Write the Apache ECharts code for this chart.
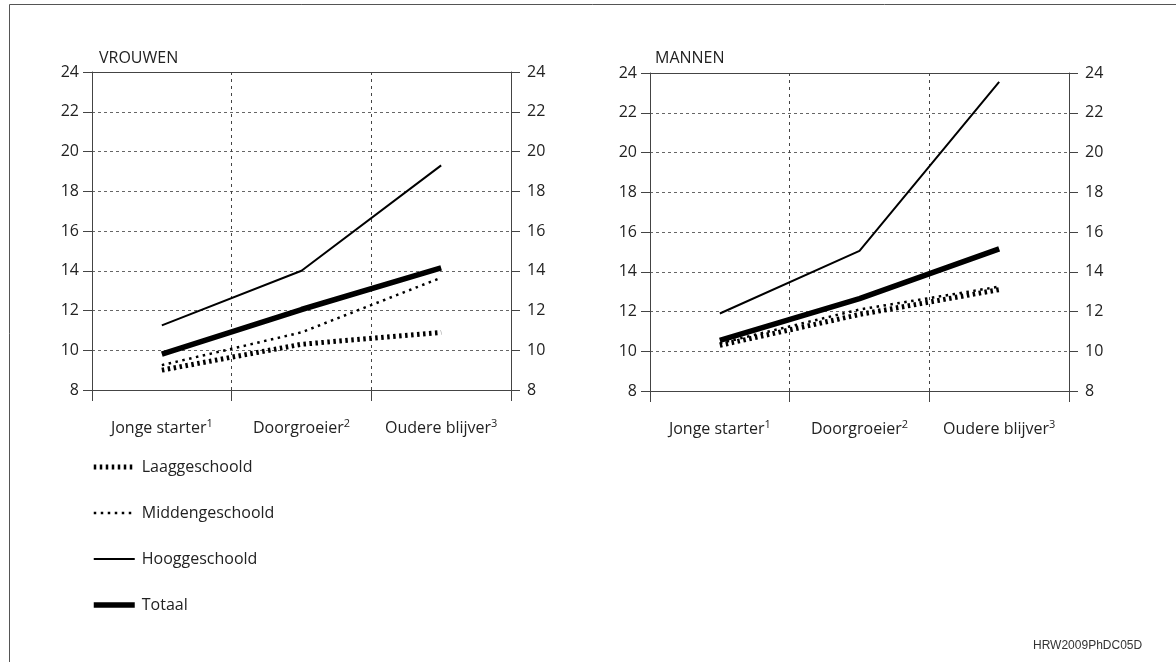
<!DOCTYPE html>
<html>
<head>
<meta charset="utf-8">
<script src="https://cdn.jsdelivr.net/npm/echarts@6/dist/echarts.min.js"></script>
<style>
  html, body { margin: 0; padding: 0; background: #fff; }
  #chart { width: 1176px; height: 662px; }
</style>
</head>
<body>
<div id="chart"></div>
<script>
// categorieen (x-as) en voetnootnummers
var categories = ['Jonge starter', 'Doorgroeier', 'Oudere blijver'];
var notes = ['1', '2', '3'];
// y-as ticks
var yTicks = [8, 10, 12, 14, 16, 18, 20, 22, 24];

// VROUWEN
var vrouwenLaag = [9.0, 10.3, 10.9];
var vrouwenMidden = [9.25, 10.9, 13.65];
var vrouwenHoog = [11.25, 14.0, 19.3];
var vrouwenTotaal = [9.8, 12.05, 14.15];

// MANNEN
var mannenLaag = [10.3, 11.85, 13.1];
var mannenMidden = [10.4, 12.1, 13.25];
var mannenHoog = [11.9, 15.05, 23.55];
var mannenTotaal = [10.55, 12.65, 15.15];

var names = ['Laaggeschoold', 'Middengeschoold', 'Hooggeschoold', 'Totaal'];

var font = '"Open Sans", "Noto Sans", sans-serif';
var textColor = '#222';

// lijnstijlen per opleidingsniveau
var styles = [
    {color: '#000', width: 5, type: [2.5, 3.5]},
    {color: '#000', width: 2.5, type: [2.5, 4.5]},
    {color: '#000', width: 2, type: 'solid'},
    {color: '#000', width: 5.5, type: 'solid'}
];

function xAxes(gridIndex) {
    return [{
        gridIndex: gridIndex,
        type: 'category',
        data: categories,
        boundaryGap: true,
        axisLine: {lineStyle: {color: '#444', width: 1}},
        axisTick: {show: true, interval: 0, length: 11, lineStyle: {color: '#444'}},
        splitLine: {show: true, interval: 0, lineStyle: {color: '#444', type: [3, 4], width: 1}},
        axisLabel: {
            interval: 0,
            margin: 28,
            color: textColor,
            fontFamily: font,
            fontSize: 16,
            formatter: function (value, index) {
                return '{t|' + value + '}{sup|' + notes[index] + '}';
            },
            rich: {
                t: {fontFamily: font, fontSize: 16, color: textColor},
                sup: {fontFamily: font, fontSize: 11, color: textColor, padding: [0, 0, 9, 0]}
            }
        }
    }, {
        // bovenrand van het plotvlak
        gridIndex: gridIndex,
        type: 'category',
        position: 'top',
        data: categories,
        axisLine: {show: true, lineStyle: {color: '#444', width: 1}},
        axisTick: {show: false},
        axisLabel: {show: false},
        splitLine: {show: false}
    }];
}

function yAxes(gridIndex) {
    var base = {
        gridIndex: gridIndex,
        type: 'value',
        min: yTicks[0],
        max: yTicks[yTicks.length - 1],
        interval: 2,
        axisLine: {show: true, lineStyle: {color: '#444', width: 1}},
        axisTick: {show: true, length: 9, lineStyle: {color: '#444'}},
        axisLabel: {margin: 13, color: textColor, fontFamily: font, fontSize: 16}
    };
    var left = Object.assign({}, base, {
        position: 'left',
        splitLine: {show: true, lineStyle: {color: '#666', type: [3, 3], width: 1}}
    });
    var right = Object.assign({}, base, {
        position: 'right',
        splitLine: {show: false},
        axisLabel: {margin: 16, color: textColor, fontFamily: font, fontSize: 16}
    });
    return [left, right];
}

function makeSeries(data, xi, yi) {
    return data.map(function (values, i) {
        return {
            name: names[i],
            type: 'line',
            xAxisIndex: xi,
            yAxisIndex: yi,
            symbol: 'none',
            showSymbol: false,
            silent: true,
            z: 10 - i,
            lineStyle: styles[i],
            itemStyle: {color: '#000'},
            data: values
        };
    });
}

var myChart = echarts.init(document.getElementById('chart'));

var option = {
    backgroundColor: '#fff',
    animation: false,
    title: [
        {text: 'VROUWEN', left: 94, top: 45, textStyle: {fontFamily: font, fontSize: 16, fontWeight: 'normal', color: textColor}},
        {text: 'MANNEN', left: 650, top: 45, textStyle: {fontFamily: font, fontSize: 16, fontWeight: 'normal', color: textColor}}
    ],
    legend: {
        orient: 'vertical',
        left: 91,
        top: 459,
        padding: 0,
        itemWidth: 41,
        itemHeight: 16,
        itemGap: 30,
        selectedMode: false,
        textStyle: {fontFamily: font, fontSize: 16, color: textColor, padding: [6, 0, 0, 2]},
        data: names.map(function (n, i) {
            return {name: n, lineStyle: styles[i], itemStyle: {opacity: 0}};
        })
    },
    grid: [
        {left: 92, top: 72, width: 419, height: 318},
        {left: 650, top: 73, width: 419, height: 318}
    ],
    xAxis: xAxes(0).concat(xAxes(1)),
    yAxis: yAxes(0).concat(yAxes(1)),
    series: makeSeries([vrouwenLaag, vrouwenMidden, vrouwenHoog, vrouwenTotaal], 0, 0)
        .concat(makeSeries([mannenLaag, mannenMidden, mannenHoog, mannenTotaal], 2, 2)),
    graphic: [
        {type: 'line', shape: {x1: 9.5, y1: 4.5, x2: 1176, y2: 4.5}, style: {stroke: '#555', lineWidth: 1}},
        {type: 'line', shape: {x1: 9.5, y1: 4.5, x2: 9.5, y2: 662}, style: {stroke: '#555', lineWidth: 1}},
        {type: 'text', left: 1033, top: 640, style: {text: 'HRW2009PhDC05D', font: '12px "Liberation Sans", Arial, sans-serif', fill: '#333'}}
    ]
};

myChart.setOption(option);
</script>
</body>
</html>
